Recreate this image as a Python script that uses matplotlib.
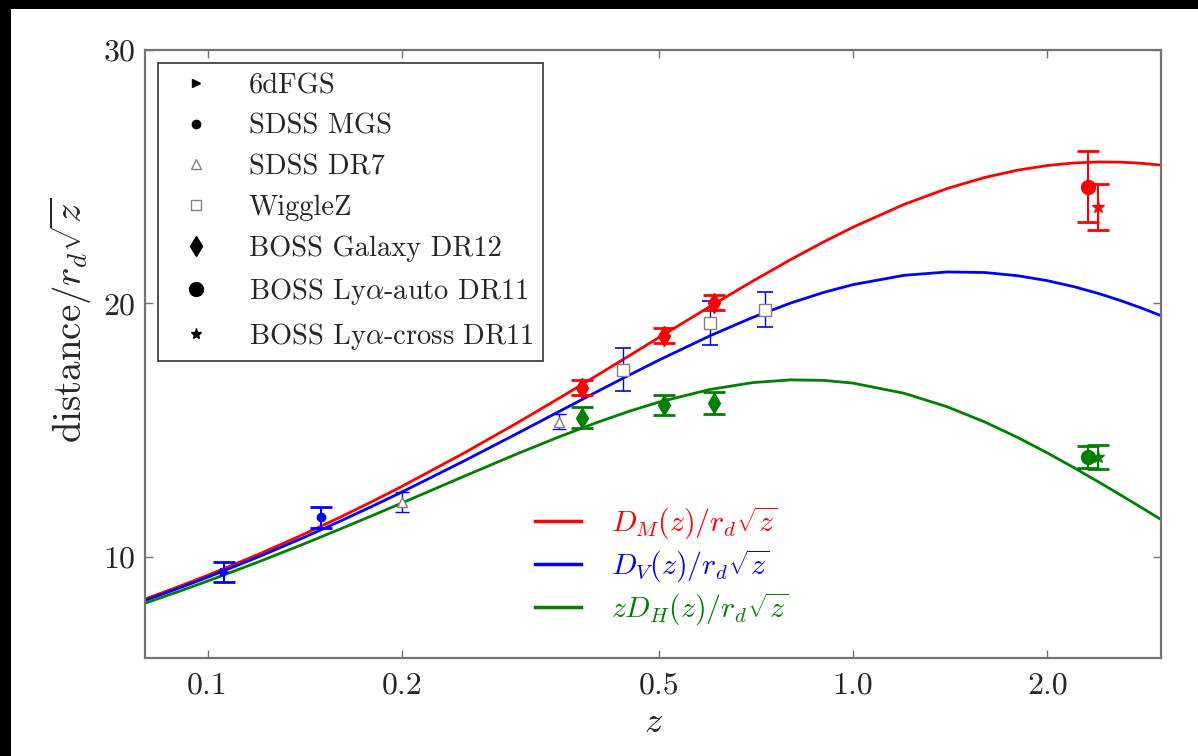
import matplotlib
matplotlib.use('Agg')
import matplotlib.pyplot as plt
from matplotlib.lines import Line2D
from matplotlib.patches import Rectangle

plt.rcParams.update({
    'font.family': 'serif',
    'font.serif': ['cmr10'],
    'mathtext.fontset': 'cm',
    'axes.formatter.use_mathtext': True,
    'axes.unicode_minus': False,
})

# fiducial LCDM curves, sampled in z
z_model = [0.08, 0.09, 0.1, 0.12, 0.14, 0.16, 0.18, 0.2, 0.25, 0.3, 0.35, 0.4, 0.45,
           0.5, 0.6, 0.7, 0.8, 0.9, 1.0, 1.2, 1.4, 1.6, 1.8, 2.0, 2.2, 2.4, 2.6, 2.8, 3.0]
dm_model = [8.325, 8.809, 9.262, 10.096, 10.851, 11.542, 12.180, 12.774, 14.098, 15.242,
            16.246, 17.136, 17.931, 18.645, 19.873, 20.884, 21.723, 22.422, 23.007, 23.907,
            24.536, 24.969, 25.258, 25.440, 25.541, 25.580, 25.572, 25.528, 25.456]
dv_model = [8.271, 8.744, 9.186, 9.995, 10.723, 11.385, 11.991, 12.551, 13.785, 14.828,
            15.722, 16.496, 17.168, 17.755, 18.716, 19.450, 20.009, 20.429, 20.738, 21.106,
            21.239, 21.216, 21.089, 20.895, 20.656, 20.389, 20.105, 19.811, 19.514]
dh_model = [8.163, 8.615, 9.035, 9.796, 10.471, 11.076, 11.622, 12.118, 13.179, 14.033,
            14.725, 15.286, 15.739, 16.099, 16.600, 16.872, 16.978, 16.959, 16.850, 16.450,
            15.914, 15.316, 14.702, 14.096, 13.510, 12.953, 12.427, 11.932, 11.468]

# BAO measurements
z_6df, dv_6df, err_6df = [0.106], [9.40], [0.40]
z_mgs, dv_mgs, err_mgs = [0.15], [11.56], [0.42]
z_dr7, dv_dr7, err_dr7 = [0.2, 0.35], [12.15, 15.33], [0.40, 0.30]
z_wig, dv_wig, err_wig = [0.44, 0.6, 0.73], [17.38, 19.23, 19.74], [0.85, 0.88, 0.69]
z_gal = [0.38, 0.51, 0.61]
dm_gal, dm_gal_err = [16.67, 18.72, 20.02], [0.30, 0.30, 0.30]
dh_gal, dh_gal_err = [15.48, 16.00, 16.08], [0.42, 0.40, 0.43]
z_auto = [2.31]
dm_auto, dm_auto_err = [24.6], [1.4]
dh_auto, dh_auto_err = [13.94], [0.43]
z_cross = [2.40]
dm_cross, dm_cross_err = [23.8], [0.9]
dh_cross, dh_cross_err = [13.94], [0.46]

xticks = [0.1, 0.2, 0.5, 1.0, 2.0]
xticklabels = ['0.1', '0.2', '0.5', '1.0', '2.0']
yticks = [10, 20, 30]

fig = plt.figure(figsize=(11.98, 7.56), dpi=100, facecolor='black')
fig.patches.append(Rectangle((11 / 1198, 0), 1, 747 / 756, transform=fig.transFigure,
                             facecolor='white', edgecolor='none', zorder=-1))
ax = fig.add_axes([145 / 1198, 98 / 756, 1016 / 1198, 608 / 756])

l_dm, = ax.plot(z_model, dm_model, color='r', lw=2.0, label=r'$D_M(z)/r_d\sqrt{z}$')
l_dv, = ax.plot(z_model, dv_model, color='b', lw=2.0, label=r'$D_V(z)/r_d\sqrt{z}$')
l_dh, = ax.plot(z_model, dh_model, color='g', lw=2.0, label=r'$zD_H(z)/r_d\sqrt{z}$')

ebar = dict(ls='none', capsize=8, capthick=2, elinewidth=1.5, zorder=5)
ax.errorbar(z_6df, dv_6df, yerr=err_6df, fmt='>', color='b', ms=6, **ebar)
ax.errorbar(z_mgs, dv_mgs, yerr=err_mgs, fmt='o', color='b', ms=6, **ebar)
ax.errorbar(z_dr7, dv_dr7, yerr=err_dr7, fmt='^', mfc='white', mec='0.5', ecolor='b',
            ms=7, ls='none', capsize=5, elinewidth=1, capthick=1, zorder=5)
ax.errorbar(z_wig, dv_wig, yerr=err_wig, fmt='s', mfc='white', mec='0.5', ecolor='b',
            ms=8, ls='none', capsize=6, elinewidth=1, capthick=1.2, zorder=5)
ax.errorbar(z_gal, dm_gal, yerr=dm_gal_err, fmt='d', color='r', ms=10, **ebar)
ax.errorbar(z_gal, dh_gal, yerr=dh_gal_err, fmt='d', color='g', ms=10, **ebar)
ax.errorbar(z_auto, dm_auto, yerr=dm_auto_err, fmt='o', color='r', ms=10, **ebar)
ax.errorbar(z_auto, dh_auto, yerr=dh_auto_err, fmt='o', color='g', ms=10, **ebar)
ax.errorbar(z_cross, dm_cross, yerr=dm_cross_err, fmt='*', color='r', ms=9, **ebar)
ax.errorbar(z_cross, dh_cross, yerr=dh_cross_err, fmt='*', color='g', ms=9, **ebar)

ax.set_xscale('log')
ax.set_xlim(0.08, 3.0)
ax.set_ylim(6, 30)
ax.set_xticks(xticks)
ax.set_xticklabels(xticklabels)
ax.xaxis.set_minor_locator(matplotlib.ticker.NullLocator())
ax.set_yticks(yticks)
ax.tick_params(direction='in', length=6, width=1, color='0.45', labelcolor='0.15',
               labelsize=23, top=True, right=True)
ax.tick_params(axis='x', pad=10)
ax.tick_params(axis='y', pad=7)
for sp in ax.spines.values():
    sp.set_color('0.45')
    sp.set_linewidth(1.6)

ax.set_xlabel(r'$z$', fontsize=26, color='0.15', labelpad=6)
ax.set_ylabel(r'distance$/r_d\sqrt{z}$', fontsize=28, color='0.15')
ax.yaxis.set_label_coords(-0.05, 0.555)

# survey legend, drawn in black
survey_handles = [
    Line2D([], [], ls='none', marker='>', color='k', ms=6),
    Line2D([], [], ls='none', marker='o', color='k', ms=6),
    Line2D([], [], ls='none', marker='^', mfc='white', mec='0.5', ms=7),
    Line2D([], [], ls='none', marker='s', mfc='white', mec='0.5', ms=7),
    Line2D([], [], ls='none', marker='d', color='k', ms=10),
    Line2D([], [], ls='none', marker='o', color='k', ms=10),
    Line2D([], [], ls='none', marker='*', color='k', ms=8),
]
survey_labels = ['6dFGS', 'SDSS MGS', 'SDSS DR7', 'WiggleZ', 'BOSS Galaxy DR12',
                 r'BOSS Ly$\alpha$-auto DR11', r'BOSS Ly$\alpha$-cross DR11']
leg1 = ax.legend(survey_handles, survey_labels, loc='upper left', fontsize=20.5,
                 numpoints=1, fancybox=False, borderaxespad=0.47, labelspacing=0.5,
                 handletextpad=0.85, borderpad=0.33)
leg1.get_frame().set_edgecolor('k')
leg1.get_frame().set_linewidth(1.2)
for t in leg1.get_texts():
    t.set_color('0.15')
ax.add_artist(leg1)

leg2 = ax.legend([l_dm, l_dv, l_dh], [l_dm.get_label(), l_dv.get_label(), l_dh.get_label()],
                 loc='lower left', bbox_to_anchor=(0.357, 0.005), fontsize=21.5, frameon=False,
                 handlelength=1.57, handletextpad=1.0, labelspacing=0.2)
for t, c in zip(leg2.get_texts(), ['r', 'b', 'g']):
    t.set_color(c)
for h in leg2.legend_handles:
    h.set_linewidth(2.5)

fig.savefig('out.png', dpi=100, facecolor=fig.get_facecolor())
